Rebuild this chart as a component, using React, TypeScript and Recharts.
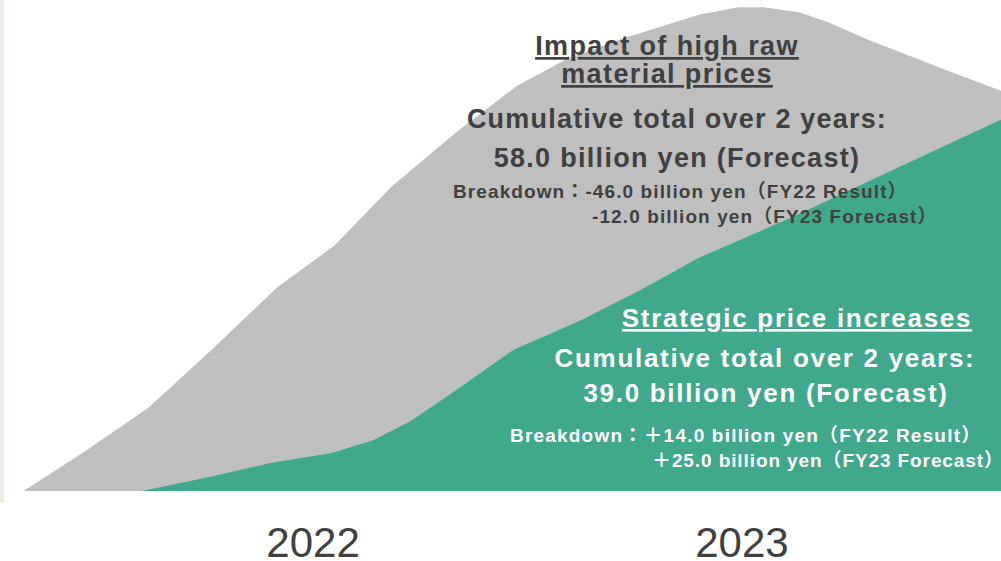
import React from "react";
import { AreaChart, Area, XAxis, YAxis } from "recharts";

// Horizontal position in months (2022 label at month 6, 2023 label at month 18)
const grayMonths = [-2.1, -0.4, 1.4, 3.2, 5.0, 6.6, 8.2, 10.0, 11.7, 13.1, 14.6, 15.7, 16.8, 17.9, 18.6, 19.6, 20.4, 21.5, 23.8, 25.25];
// Impact of high raw material prices (relative height, 0-100)
const grayValues = [0, 8, 17, 29, 41.5, 50, 62, 73, 82.5, 88, 92, 94.5, 97, 98.5, 98.5, 97.5, 95.5, 92, 85.5, 81.5];

const greenMonths = [1.2, 3.2, 4.8, 6.5, 7.7, 8.7, 9.9, 11.6, 13.5, 15.15, 16.8, 19.6, 22.4, 25.25];
// Strategic price increases (relative height, 0-100)
const greenValues = [0, 3, 5.7, 7.7, 10.4, 14.1, 20, 28.7, 34.8, 40.9, 47.5, 56.4, 66, 75.6];

const yearTicks = [6, 18];
const yearLabels = ["2022", "2023"];

const grayTitle = ["Impact of high raw", "material prices"];
const grayTotal = ["Cumulative total over 2 years:", "58.0 billion yen (Forecast)"];
const grayBreakdown = ["Breakdown：-46.0 billion yen（FY22 Result）", "-12.0 billion yen（FY23 Forecast）"];

const greenTitle = ["Strategic price increases"];
const greenTotal = ["Cumulative total over 2 years:", "39.0 billion yen (Forecast)"];
const greenBreakdown = ["Breakdown：＋14.0 billion yen（FY22 Result）", "＋25.0 billion yen（FY23 Forecast）"];

const GRAY = "#BFBFBF";
const GREEN = "#40A98B";
const DARK = "#404040";
const FONT = "'Liberation Sans', Arial, 'Noto Sans CJK JP', sans-serif";

function buildData() {
  const map = new Map<number, any>();
  grayMonths.forEach((m, i) => {
    const r = map.get(m) || { m };
    r.gray = grayValues[i];
    map.set(m, r);
  });
  greenMonths.forEach((m, i) => {
    const r = map.get(m) || { m };
    r.green = greenValues[i];
    map.set(m, r);
  });
  return Array.from(map.values()).sort((a, b) => a.m - b.m);
}

const data = buildData();

const YearTick = (props: any) => {
  const { x, y, payload } = props;
  const idx = yearTicks.indexOf(payload.value);
  return (
    <text x={x} y={y} dy={58} textAnchor="middle" fill={DARK} fontSize={42} fontFamily={FONT}>
      {yearLabels[idx]}
    </text>
  );
};

export default function App() {
  const big = { fontFamily: FONT, fontWeight: 700 as const };
  return (
    <div style={{ position: "absolute", left: 0, top: 0, width: 1001, height: 561, background: "#ffffff", overflow: "hidden" }}>
      <div style={{ position: "absolute", left: 0, top: 0, width: 4, height: 503, background: "#EFEDE3" }} />
      <div style={{ position: "absolute", left: 0, top: 0 }}>
        <AreaChart width={1001} height={561} data={data} margin={{ top: 0, right: 0, bottom: 0, left: 0 }}>
          <XAxis
            dataKey="m"
            type="number"
            domain={[-2.76, 25.25]}
            ticks={yearTicks}
            height={70}
            axisLine={false}
            tickLine={false}
            interval={0}
            tick={<YearTick />}
            allowDataOverflow
          />
          <YAxis hide domain={[0, 100]} type="number" allowDataOverflow />
          <Area
            dataKey="gray"
            type="linear"
            stroke="none"
            fill={GRAY}
            fillOpacity={1}
            connectNulls
            isAnimationActive={false}
            dot={false}
            activeDot={false}
          />
          <Area
            dataKey="green"
            type="linear"
            stroke="none"
            fill={GREEN}
            fillOpacity={1}
            connectNulls
            isAnimationActive={false}
            dot={false}
            activeDot={false}
          />
        </AreaChart>
      </div>
      <svg width={1001} height={561} style={{ position: "absolute", left: 0, top: 0, pointerEvents: "none" }}>
        <g fill={DARK} style={big}>
          <text x={667} y={55} textAnchor="middle" fontSize={27} letterSpacing={1.4} textDecoration="underline">{grayTitle[0]}</text>
          <text x={667} y={83} textAnchor="middle" fontSize={27} letterSpacing={1.4} textDecoration="underline">{grayTitle[1]}</text>
          <text x={677} y={128} textAnchor="middle" fontSize={27} letterSpacing={1.2}>{grayTotal[0]}</text>
          <text x={677} y={167} textAnchor="middle" fontSize={27} letterSpacing={1.3}>{grayTotal[1]}</text>
          <text x={453} y={198} fontSize={19} letterSpacing={1.1}>{grayBreakdown[0]}</text>
          <text x={592} y={223} fontSize={19} letterSpacing={1.1}>{grayBreakdown[1]}</text>
        </g>
        <g fill="#FFFFFF" style={big}>
          <text x={797} y={327} textAnchor="middle" fontSize={26} letterSpacing={1.7} textDecoration="underline">{greenTitle[0]}</text>
          <text x={765} y={367} textAnchor="middle" fontSize={26} letterSpacing={1.7}>{greenTotal[0]}</text>
          <text x={766} y={402} textAnchor="middle" fontSize={26} letterSpacing={1.7}>{greenTotal[1]}</text>
          <text x={510} y={442} fontSize={19} letterSpacing={1.2}>{greenBreakdown[0]}</text>
          <text x={652} y={467} fontSize={19} letterSpacing={0.9}>{greenBreakdown[1]}</text>
        </g>
      </svg>
    </div>
  );
}
